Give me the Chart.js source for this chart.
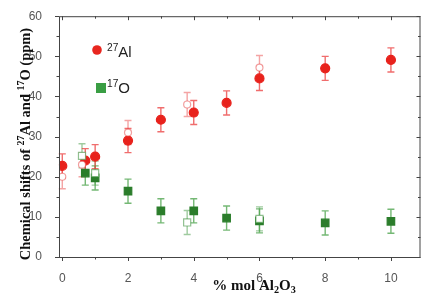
<!DOCTYPE html>
<html>
<head>
<meta charset="utf-8">
<script src="https://cdn.jsdelivr.net/npm/chart.js@4/dist/chart.umd.min.js"></script>
<style>
	html, body { margin: 0; padding: 0; background: #fff; }
	#wrap { width: 427px; height: 298px; }
</style>
</head>
<body>
<div id="wrap"><canvas id="c" width="427" height="298"></canvas></div>
<script>
// 27Al, this work (filled circles)
const alX = [0, 0.7, 1, 2, 3, 4, 5, 6, 8, 10];
const alY = [22.7, 24.0, 25.0, 29.0, 34.2, 36.0, 38.4, 44.5, 47.0, 49.1];
const alErr = [3, 3, 3, 3, 3, 3, 3, 3, 3, 3];
// 27Al, open circles
const alOpenX = [0, 0.6, 2, 3.8, 6];
const alOpenY = [20.0, 23.0, 31.0, 38.0, 47.2];
const alOpenErr = [3, 3, 3, 3, 3];
// 17O, filled squares
const oX = [0.7, 1, 2, 3, 4, 5, 6, 8, 10];
const oY = [20.9, 19.7, 16.4, 11.5, 11.5, 9.7, 9.0, 8.5, 8.9];
const oErr = [3, 3, 3, 3, 3, 3, 3, 3, 3];
// 17O, open squares
const oOpenX = [0.6, 1, 3.8, 6];
const oOpenY = [25.2, 20.9, 8.6, 9.5];
const oOpenErr = [3, 3, 3, 3];

const xTicks = [0, 2, 4, 6, 8, 10];
const yTicks = [0, 10, 20, 30, 40, 50, 60];

const pts = (xs, ys) => xs.map((x, i) => ({x: x, y: ys[i]}));

// draw text made of pieces; sup/sub pieces are smaller and shifted
function richText(ctx, parts, x, y, size, family, weight) {
	let cx = x;
	parts.forEach(p => {
		let s = p.sup || p.sub ? size * 0.68 : size;
		let dy = p.sup ? -size * 0.38 : (p.sub ? size * 0.22 : 0);
		ctx.font = `${weight} ${s}px ${family}`;
		ctx.fillText(p.t, cx, y + dy);
		cx += ctx.measureText(p.t).width;
	});
	return cx - x;
}
function richWidth(ctx, parts, size, family, weight) {
	let w = 0;
	parts.forEach(p => {
		let s = p.sup || p.sub ? size * 0.68 : size;
		ctx.font = `${weight} ${s}px ${family}`;
		w += ctx.measureText(p.t).width;
	});
	return w;
}

const errorBars = {
	id: 'errorBars',
	beforeDatasetsDraw(chart) {
		const ctx = chart.ctx, xs = chart.scales.x, ys = chart.scales.y;
		chart.data.datasets.forEach(ds => {
			ctx.save();
			ctx.strokeStyle = ds.errColor;
			ctx.lineWidth = 1.4;
			ds.data.forEach((p, i) => {
				let px = xs.getPixelForValue(p.x);
				let top = ys.getPixelForValue(p.y + ds.err[i]);
				let bot = ys.getPixelForValue(p.y - ds.err[i]);
				ctx.beginPath();
				ctx.moveTo(px, top); ctx.lineTo(px, bot);
				ctx.moveTo(px - 3.5, top); ctx.lineTo(px + 3.5, top);
				ctx.moveTo(px - 3.5, bot); ctx.lineTo(px + 3.5, bot);
				ctx.stroke();
			});
			ctx.restore();
		});
	}
};

const frame = {
	id: 'frame',
	afterDraw(chart) {
		const ctx = chart.ctx, a = chart.chartArea, xs = chart.scales.x, ys = chart.scales.y;
		ctx.save();
		ctx.strokeStyle = '#444';
		ctx.lineWidth = 1;
		ctx.strokeRect(a.left + 0.5, a.top + 0.5, a.right - a.left - 1, a.bottom - a.top);
		ctx.beginPath();
		for (let v = 0; v <= 10; v++) {
			let px = Math.round(xs.getPixelForValue(v)) + 0.5;
			let len = v % 2 === 0 ? 4 : 2.5;
			ctx.moveTo(px, a.bottom); ctx.lineTo(px, a.bottom + len);
			ctx.moveTo(px, a.top); ctx.lineTo(px, a.top + len);
		}
		for (let v = 0; v <= 60; v += 5) {
			let py = Math.round(ys.getPixelForValue(v)) + 0.5;
			let len = v % 10 === 0 ? 4 : 2.5;
			ctx.moveTo(a.left, py); ctx.lineTo(a.left - len, py);
			ctx.moveTo(a.right, py); ctx.lineTo(a.right - len, py);
		}
		ctx.stroke();

		// legend
		ctx.fillStyle = '#e8261f';
		ctx.beginPath();
		ctx.arc(97, 50, 4.8, 0, Math.PI * 2);
		ctx.fill();
		ctx.fillStyle = '#3a9e44';
		ctx.fillRect(96, 83, 10, 10);
		ctx.fillStyle = '#222';
		ctx.textBaseline = 'alphabetic';
		ctx.textAlign = 'left';
		richText(ctx, [{t: '27', sup: true}, {t: 'Al'}], 107, 57, 15, '"Liberation Sans", Arial', 'normal');
		richText(ctx, [{t: '17', sup: true}, {t: 'O'}], 107, 93, 15, '"Liberation Sans", Arial', 'normal');

		// axis titles
		const serif = '"Liberation Serif", "Times New Roman", serif';
		ctx.fillStyle = '#111';
		let xt = [{t: '% mol Al'}, {t: '2', sub: true}, {t: 'O'}, {t: '3', sub: true}];
		let w = richWidth(ctx, xt, 15, serif, 'bold');
		richText(ctx, xt, 254 - w / 2, 290, 15, serif, 'bold');

		let yt = [{t: 'Chemical shifts of '}, {t: '27', sup: true}, {t: 'Al and '}, {t: '17', sup: true}, {t: 'O (ppm)'}];
		ctx.translate(30, 144);
		ctx.rotate(-Math.PI / 2);
		w = richWidth(ctx, yt, 14.5, serif, 'bold');
		richText(ctx, yt, -w / 2, 0, 14.5, serif, 'bold');
		ctx.restore();
	}
};

const ds = (label, xs, ys, err, style, bg, border, r, errColor) => ({
	label: label,
	data: pts(xs, ys),
	err: err,
	errColor: errColor,
	pointStyle: style,
	pointRadius: r,
	pointHoverRadius: r,
	backgroundColor: bg,
	borderColor: border,
	pointBorderWidth: 1.2,
	showLine: false
});

const config = {
	type: 'scatter',
	data: {
		datasets: [
			ds('27Al open', alOpenX, alOpenY, alOpenErr, 'circle', '#fff', 'rgba(232,80,80,0.55)', 3.5, 'rgba(235,90,90,0.55)'),
			ds('17O open', oOpenX, oOpenY, oOpenErr, 'rect', '#fff', 'rgba(70,150,70,0.6)', 5, 'rgba(80,160,80,0.55)'),
			ds('17O', oX, oY, oErr, 'rect', '#2b7d2b', '#2b7d2b', 5.3, 'rgba(70,160,70,0.75)'),
			ds('27Al', alX, alY, alErr, 'circle', '#e8221c', '#e8221c', 4.5, 'rgba(235,60,60,0.75)')
		]
	},
	options: {
		responsive: false,
		animation: false,
		layout: { padding: { top: 13, right: 1, left: 0, bottom: 0 } },
		plugins: { legend: { display: false }, tooltip: { enabled: false } },
		scales: {
			x: {
				type: 'linear', min: -0.1, max: 10.9,
				grid: { display: false },
				border: { display: false },
				afterBuildTicks: s => { s.ticks = xTicks.map(v => ({value: v})); },
				afterFit: s => { s.height = 41; },
				ticks: { color: '#555', font: { family: '"Liberation Sans", Arial', size: 12 }, padding: 6, maxRotation: 0 }
			},
			y: {
				type: 'linear', min: 0, max: 60,
				grid: { display: false },
				border: { display: false },
				afterBuildTicks: s => { s.ticks = yTicks.map(v => ({value: v})); },
				afterFit: s => { s.width = 59; },
				ticks: { color: '#555', font: { family: '"Liberation Sans", Arial', size: 12 }, padding: 9 }
			}
		}
	},
	plugins: [errorBars, frame]
};

const chart = new Chart(document.getElementById('c'), config);
</script>
</body>
</html>
